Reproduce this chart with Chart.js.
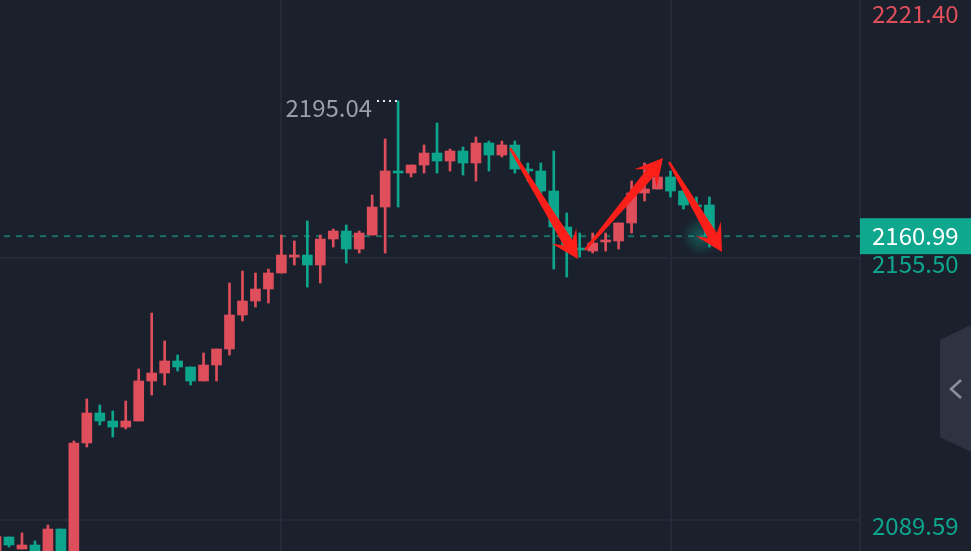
<!DOCTYPE html>
<html>
<head>
<meta charset="utf-8">
<script src="https://cdn.jsdelivr.net/npm/chart.js@4.4.1/dist/chart.umd.min.js"></script>
<style>
  html, body { margin: 0; padding: 0; background: #1b202d; }
  #wrap { width: 971px; height: 551px; }
</style>
</head>
<body>
<div id="wrap"><canvas id="myChart" width="971" height="551"></canvas></div>
<script>
// candle index (k = -1 is the half-hidden one at the left edge)
var candleIndex = [];
for (var k = -1; k <= 54; k++) candleIndex.push(k);

var opens = [2079.50, 2085.31, 2082.29, 2083.30, 2079.53, 2087.32, 2080.53, 2108.96, 2116.51, 2114.49,
  2112.98, 2114.49, 2124.56, 2126.57, 2129.59, 2128.08, 2124.56, 2128.58, 2132.61, 2141.16,
  2144.68, 2147.70, 2151.73, 2155.75, 2156.25, 2153.74, 2160.28, 2162.29, 2157.76, 2161.29,
  2168.33, 2177.39, 2176.88, 2178.90, 2181.91, 2179.90, 2182.42, 2179.40, 2184.43, 2181.41,
  2183.93, 2177.89, 2177.39, 2172.35, 2163.30, 2157.76, 2157.26, 2159.53, 2159.78, 2164.31,
  2171.85, 2172.86, 2175.88, 2172.35, 2168.83, 2168.83];
var highs = [2085.39, 2085.31, 2086.32, 2084.31, 2088.33, 2087.32, 2109.46, 2120.03, 2118.52, 2117.01,
  2119.53, 2127.58, 2141.66, 2134.62, 2131.10, 2128.08, 2131.60, 2132.61, 2149.21, 2152.23,
  2151.73, 2152.73, 2161.29, 2159.78, 2164.81, 2161.29, 2162.80, 2163.80, 2162.29, 2171.35,
  2185.44, 2195.04, 2178.90, 2183.93, 2189.46, 2182.92, 2183.42, 2185.94, 2184.93, 2184.93,
  2184.93, 2179.40, 2179.40, 2182.42, 2166.82, 2161.79, 2161.79, 2161.79, 2164.31, 2174.87,
  2179.40, 2177.39, 2177.39, 2172.35, 2170.85, 2170.85];
var lows = [2079.00, 2082.80, 2082.29, 2080.78, 2079.02, 2079.02, 2080.03, 2107.95, 2113.49, 2110.47,
  2112.48, 2114.49, 2121.03, 2123.55, 2127.07, 2123.55, 2124.56, 2124.56, 2131.10, 2139.65,
  2143.17, 2144.18, 2151.73, 2153.74, 2148.20, 2149.21, 2158.27, 2154.24, 2156.76, 2161.29,
  2156.76, 2168.33, 2175.88, 2176.88, 2176.88, 2177.39, 2176.38, 2174.87, 2177.39, 2180.91,
  2176.88, 2174.87, 2170.85, 2152.73, 2150.72, 2155.75, 2156.76, 2157.26, 2157.76, 2161.79,
  2169.84, 2172.86, 2170.85, 2167.83, 2167.32, 2158.27];
var closes = [2085.39, 2083.30, 2083.30, 2081.29, 2087.32, 2079.53, 2108.96, 2116.51, 2114.49, 2112.98,
  2114.49, 2124.56, 2126.57, 2129.59, 2128.08, 2124.56, 2128.58, 2132.61, 2141.16, 2144.68,
  2147.70, 2151.73, 2156.25, 2156.25, 2153.74, 2160.28, 2162.29, 2157.76, 2161.79, 2168.33,
  2177.39, 2176.88, 2178.90, 2181.91, 2179.90, 2182.42, 2179.40, 2184.43, 2181.41, 2183.93,
  2177.89, 2177.39, 2172.35, 2163.30, 2158.27, 2157.51, 2159.27, 2159.78, 2164.31, 2171.85,
  2172.86, 2175.88, 2172.35, 2168.83, 2168.33, 2160.99];

// axis labels on the right
var axisTop = 2221.40;
var axisTicks = [2155.50, 2089.59];
var lastPrice = 2160.99;
// vertical grid lines sit on these candles
var xGridAt = [21, 51];

// the red hand-drawn arrows, [candle index, price]
var arrowFrom = [[38.63, 2183.17], [44.41, 2157.51], [50.89, 2179.65]];
var arrowTo = [[43.87, 2155.25], [50.42, 2180.66], [54.97, 2157.01]];

var RED = '#de4e5b';
var GREEN = '#0ea58d';
var GRID = '#232937';
var FONT = "'Noto Sans CJK SC', 'Noto Sans', sans-serif";

var colors = opens.map(function (o, i) { return closes[i] >= o ? RED : GREEN; });

var bodies = candleIndex.map(function (x, i) { return { x: x, y: [opens[i], closes[i]] }; });
var wicks = candleIndex.map(function (x, i) { return { x: x, y: [lows[i], highs[i]] }; });

function drawArrow(ctx, x1, y1, x2, y2) {
  var dx = x2 - x1, dy = y2 - y1;
  var len = Math.sqrt(dx * dx + dy * dy);
  var ux = dx / len, uy = dy / len;
  var px = -uy, py = ux;
  var headL = 27, headW = 14.5, notch = 19, shaftW = 5.2, tailW = 1.2;
  var bx = x2 - ux * headL, by = y2 - uy * headL;
  var nx = x2 - ux * notch, ny = y2 - uy * notch;
  ctx.beginPath();
  ctx.moveTo(x1 + px * tailW, y1 + py * tailW);
  ctx.lineTo(nx + px * shaftW, ny + py * shaftW);
  ctx.lineTo(bx + px * headW, by + py * headW);
  ctx.lineTo(x2, y2);
  ctx.lineTo(bx - px * headW, by - py * headW);
  ctx.lineTo(nx - px * shaftW, ny - py * shaftW);
  ctx.lineTo(x1 - px * tailW, y1 - py * tailW);
  ctx.closePath();
  ctx.fill();
}

var extras = {
  id: 'extras',
  beforeDatasetsDraw: function (chart) {
    var ctx = chart.ctx, a = chart.chartArea;
    var y = chart.scales.y.getPixelForValue(lastPrice);
    ctx.save();
    ctx.strokeStyle = '#1d6f66';
    ctx.lineWidth = 2;
    ctx.setLineDash([6, 6]);
    ctx.lineDashOffset = 8;
    ctx.beginPath();
    ctx.moveTo(a.left, y);
    ctx.lineTo(a.right, y);
    ctx.stroke();
    ctx.restore();
  },
  afterDatasetsDraw: function (chart) {
    var ctx = chart.ctx, xs = chart.scales.x, ys = chart.scales.y;
    ctx.save();

    // glow at the last price
    var lx = xs.getPixelForValue(candleIndex[candleIndex.length - 1]) - 8;
    var ly = ys.getPixelForValue(lastPrice);
    var g = ctx.createRadialGradient(lx, ly, 0, lx, ly, 20);
    g.addColorStop(0, 'rgba(14,165,141,0.45)');
    g.addColorStop(1, 'rgba(14,165,141,0)');
    ctx.fillStyle = g;
    ctx.fillRect(lx - 20, ly - 20, 40, 40);

    // highest point label
    var hi = 0;
    highs.forEach(function (h, i) { if (h > highs[hi]) hi = i; });
    var hx = xs.getPixelForValue(candleIndex[hi]);
    var hy = ys.getPixelForValue(highs[hi]);
    ctx.fillStyle = '#e8e8ec';
    for (var d = 0; d < 4; d++) ctx.fillRect(Math.round(hx - 21 + d * 6), Math.round(hy - 1), 2, 2);
    ctx.fillStyle = '#9a9eaa';
    ctx.font = '24px ' + FONT;
    ctx.textAlign = 'right';
    ctx.textBaseline = 'middle';
    ctx.fillText(highs[hi].toFixed(2), hx - 26, hy + 7);

    // arrows
    ctx.fillStyle = '#fb1f1a';
    arrowFrom.forEach(function (f, i) {
      var t = arrowTo[i];
      drawArrow(ctx, xs.getPixelForValue(f[0]), ys.getPixelForValue(f[1]),
        xs.getPixelForValue(t[0]), ys.getPixelForValue(t[1]));
    });
    ctx.restore();
  },
  afterDraw: function (chart) {
    var ctx = chart.ctx, ys = chart.scales.y, a = chart.chartArea;
    var W = chart.width;
    ctx.save();
    ctx.font = '24px ' + FONT;
    ctx.textAlign = 'left';
    ctx.textBaseline = 'middle';

    // top of range label
    ctx.fillStyle = RED;
    ctx.fillText(axisTop.toFixed(2), a.right + 12, Math.max(14, ys.getPixelForValue(axisTop) + 6));

    // current price box
    var y = ys.getPixelForValue(lastPrice);
    ctx.fillStyle = '#0fa78e';
    ctx.fillRect(a.right, y - 18, W - a.right, 36);
    ctx.fillStyle = '#ffffff';
    ctx.fillText(lastPrice.toFixed(2), a.right + 12, y);

    // side tab
    ctx.fillStyle = '#2e3342';
    ctx.beginPath();
    ctx.moveTo(940, 340);
    ctx.lineTo(W, 325);
    ctx.lineTo(W, 452);
    ctx.lineTo(940, 437);
    ctx.closePath();
    ctx.fill();
    ctx.strokeStyle = '#8b909c';
    ctx.lineWidth = 2.5;
    ctx.beginPath();
    ctx.moveTo(961, 380);
    ctx.lineTo(951, 389);
    ctx.lineTo(961, 398);
    ctx.stroke();
    ctx.restore();
  }
};

var ctx = document.getElementById('myChart').getContext('2d');

var myChart = new Chart(ctx, {
  type: 'bar',
  data: {
    datasets: [
      {
        data: bodies,
        backgroundColor: colors,
        barThickness: 10,
        minBarLength: 2,
        grouped: false,
        borderWidth: 0
      },
      {
        data: wicks,
        backgroundColor: colors,
        barThickness: 2,
        grouped: false,
        borderWidth: 0
      }
    ]
  },
  options: {
    responsive: false,
    animation: false,
    events: [],
    layout: { padding: 0 },
    plugins: { legend: { display: false }, tooltip: { enabled: false } },
    scales: {
      x: {
        type: 'linear',
        offset: false,
        bounds: 'data',
        min: -0.694,
        max: 65.61,
        afterBuildTicks: function (s) { s.ticks = xGridAt.map(function (v) { return { value: v }; }); },
        afterFit: function (s) { s.height = 0; s.paddingLeft = 0; s.paddingRight = 0; },
        grid: { color: GRID, lineWidth: 2, drawTicks: false, offset: false },
        border: { display: false },
        ticks: { display: false }
      },
      y: {
        position: 'right',
        min: 2081.79,
        max: 2220.41,
        afterBuildTicks: function (s) { s.ticks = axisTicks.map(function (v) { return { value: v }; }); },
        afterFit: function (s) { s.width = 111; s.paddingTop = 0; s.paddingBottom = 0; },
        grid: { color: GRID, lineWidth: 2, drawTicks: false },
        border: { color: GRID, width: 2 },
        ticks: {
          color: GREEN,
          padding: 12,
          labelOffset: 6,
          font: { family: FONT, size: 24 },
          callback: function (v) { return Number(v).toFixed(2); }
        }
      }
    }
  },
  plugins: [extras]
});
</script>
</body>
</html>
